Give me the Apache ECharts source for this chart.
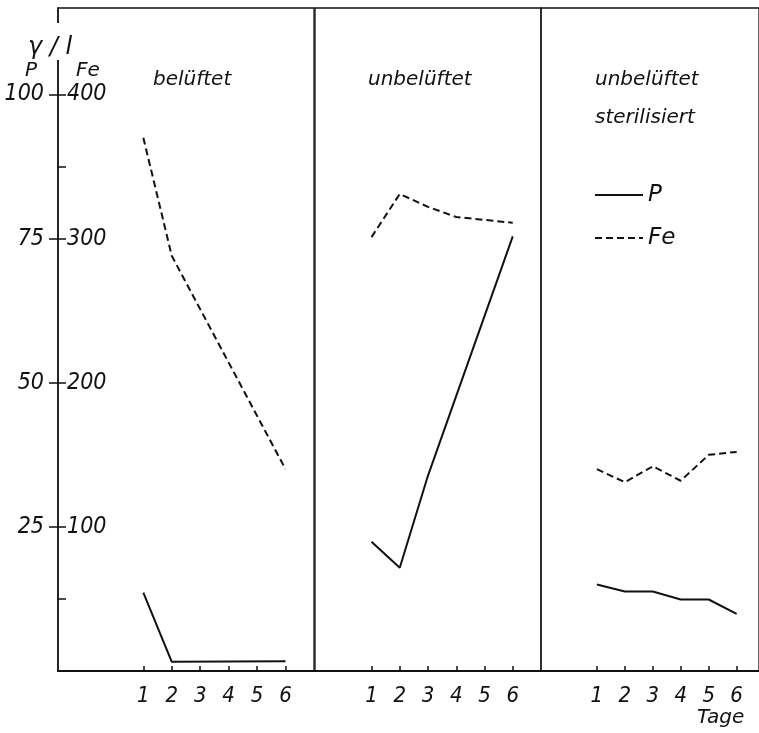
<!DOCTYPE html>
<html>
<head>
<meta charset="utf-8">
<script src="https://cdn.jsdelivr.net/npm/echarts@6/dist/echarts.min.js"></script>
<style>
  html, body { margin: 0; padding: 0; background: #fff; }
  #chart { width: 759px; height: 733px; }
</style>
</head>
<body>
<div id="chart"></div>
<script>
// Tage (Messtage) und Werte in gamma/l
const days = [1, 2, 3, 4, 5, 6]

const beluftetDaysP = [1, 2, 6]
const beluftetP = [13.6, 1.6, 1.7]
const beluftetDaysFe = [1, 2, 6]
const beluftetFe = [370, 288, 140]

const unbeluftetDaysP = [1, 2, 3, 6]
const unbeluftetP = [22.4, 17.9, 33.9, 75.4]
const unbeluftetDaysFe = [1, 2, 3, 4, 5, 6]
const unbeluftetFe = [301, 331, 322, 315, 313, 311]

const sterilDaysP = [1, 2, 3, 4, 5, 6]
const sterilP = [15.0, 13.8, 13.8, 12.4, 12.4, 9.9]
const sterilDaysFe = [1, 2, 3, 4, 5, 6]
const sterilFe = [140, 131, 142, 132, 150, 152]

const pTicks = [25, 50, 75, 100]
const feLabels = [100, 200, 300, 400]
const feTicks = [50, 100, 200, 300, 350, 400]

const panelTitles = ['belüftet', 'unbelüftet', 'unbelüftet\nsterilisiert']

const ink = '#111'
const numFont = "'DejaVu Sans Condensed', 'DejaVu Sans', sans-serif"
const textFont = "'DejaVu Sans', sans-serif"

const zip = (xs, ys) => xs.map((x, i) => [x, ys[i]])

const grids = [
  { left: 58, top: 8, width: 256, bottom: 62 },
  { left: 315, top: 8, width: 226, bottom: 62 },
  { left: 541, top: 8, width: 220, bottom: 62 },
]
const xRanges = [
  [-2, 7],
  [-1, 7],
  [-1, 6.8],
]

const xAxes = xRanges.map((range, i) => ({
  type: 'value',
  gridIndex: i,
  min: range[0],
  max: range[1],
  splitLine: { show: false },
  axisLine: { show: true, onZero: false, lineStyle: { color: ink, width: 2 } },
  axisTick: { show: true, inside: true, length: 5, customValues: days, lineStyle: { color: ink, width: 1.5 } },
  axisLabel: {
    show: true,
    customValues: days,
    margin: 14,
    color: ink,
    fontFamily: numFont,
    fontStyle: 'italic',
    fontSize: 22,
  },
}))

const yAxes = []
grids.forEach((g, i) => {
  const visible = i === 0
  // P-Skala (links außen)
  yAxes.push({
    type: 'value',
    gridIndex: i,
    min: 0,
    max: 115,
    show: visible,
    position: 'left',
    splitLine: { show: false },
    axisLine: { show: true, onZero: false, lineStyle: { color: ink, width: 1.5 } },
    axisTick: { show: true, inside: false, length: 9, customValues: pTicks, lineStyle: { color: ink, width: 1.5 } },
    axisLabel: {
      customValues: pTicks,
      margin: 14,
      color: ink,
      fontFamily: numFont,
      fontStyle: 'italic',
      fontSize: 23,
    },
  })
  // Fe-Skala (links innen)
  yAxes.push({
    type: 'value',
    gridIndex: i,
    min: 0,
    max: 460,
    show: visible,
    position: 'left',
    splitLine: { show: false },
    axisLine: { show: false, onZero: false },
    axisTick: { show: true, inside: true, length: 8, customValues: feTicks, lineStyle: { color: ink, width: 1.5 } },
    axisLabel: {
      inside: true,
      customValues: feLabels,
      margin: 9,
      color: ink,
      fontFamily: numFont,
      fontStyle: 'italic',
      fontSize: 23,
    },
  })
})

const panelData = [
  { p: zip(beluftetDaysP, beluftetP), fe: zip(beluftetDaysFe, beluftetFe) },
  { p: zip(unbeluftetDaysP, unbeluftetP), fe: zip(unbeluftetDaysFe, unbeluftetFe) },
  { p: zip(sterilDaysP, sterilP), fe: zip(sterilDaysFe, sterilFe) },
]

const series = []
panelData.forEach((d, i) => {
  series.push({
    name: 'P',
    type: 'line',
    xAxisIndex: i,
    yAxisIndex: i * 2,
    data: d.p,
    symbol: 'none',
    color: ink,
    lineStyle: { color: ink, width: 2 },
  })
  series.push({
    name: 'Fe',
    type: 'line',
    xAxisIndex: i,
    yAxisIndex: i * 2 + 1,
    data: d.fe,
    symbol: 'none',
    color: ink,
    lineStyle: { color: ink, width: 2, type: [7, 4] },
  })
})

const titleStyle = {
  color: ink,
  fontFamily: textFont,
  fontStyle: 'italic',
  fontWeight: 'normal',
  fontSize: 20,
  lineHeight: 38,
}

const option = {
  animation: false,
  backgroundColor: '#fff',
  title: [
    { text: panelTitles[0], left: 148, top: 56, textStyle: titleStyle },
    { text: panelTitles[1], left: 363, top: 56, textStyle: titleStyle },
    { text: panelTitles[2], left: 590, top: 56, textStyle: titleStyle },
  ],
  legend: {
    data: ['P', 'Fe'],
    orient: 'vertical',
    left: 594,
    top: 183,
    padding: 0,
    itemWidth: 48,
    itemHeight: 14,
    itemGap: 19,
    selectedMode: false,
    // Kreis im Legendensymbol ausblenden, nur die Linie zeigen
    itemStyle: { opacity: 0, borderWidth: 0 },
    textStyle: {
      color: ink,
      fontFamily: textFont,
      fontStyle: 'italic',
      fontSize: 23,
      lineHeight: 24,
    },
  },
  grid: grids.map((g) => ({
    ...g,
    show: true,
    borderColor: ink,
    borderWidth: 1.3,
    backgroundColor: 'transparent',
  })),
  xAxis: xAxes,
  yAxis: yAxes,
  series,
  graphic: [
    {
      type: 'text',
      left: 28,
      top: 23,
      z: 100,
      style: {
        text: 'γ / l',
        fill: ink,
        font: `italic 24px ${textFont}`,
        backgroundColor: '#fff',
        padding: [13, 0, 0, 0],
      },
    },
    {
      type: 'text',
      left: 25,
      top: 61,
      style: { text: 'P', fill: ink, font: `italic 20px ${textFont}` },
    },
    {
      type: 'text',
      left: 76,
      top: 61,
      style: { text: 'Fe', fill: ink, font: `italic 20px ${textFont}` },
    },
    {
      type: 'text',
      left: 697,
      top: 708,
      style: { text: 'Tage', fill: ink, font: `italic 20px ${textFont}` },
    },
  ],
}

const myChart = echarts.init(document.getElementById('chart'), null, { renderer: 'canvas' })
myChart.setOption(option)
</script>
</body>
</html>
